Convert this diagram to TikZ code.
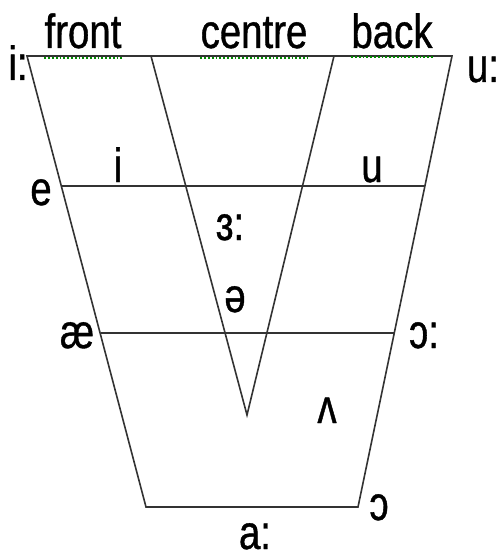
\documentclass[tikz,border=0pt]{standalone}
\usepackage{fontspec}
\setmainfont{Liberation Sans}[FakeStretch=0.8, FakeBold=0.8]
\usetikzlibrary{calc}

\begin{document}
\begin{tikzpicture}[x=1pt, y=-1pt,
  vowel/.style={anchor=base, inner sep=0pt, font=\fontsize{48}{50}\selectfont},
  edge/.style={line width=1.6pt, draw=black!80},
  squig/.style={green!55!black, line width=1.8pt, dotted}
]
\useasboundingbox (0,0) rectangle (501,559);
% chart corners
\coordinate (tl) at (27,56);
\coordinate (tr) at (452,56);
\coordinate (bl) at (146,507);
\coordinate (br) at (358,507);
\coordinate (vl) at (151,56);
\coordinate (vr) at (334,56);
\coordinate (vb) at (247,415);
\coordinate (el) at (62,186);
\coordinate (er) at (425,186);
\coordinate (al) at (101,333);
\coordinate (ar) at (394,333);
% labels
\node[vowel] (front) at (83,48) {front};
\node[vowel] (centre) at (254,48) {centre};
\node[vowel] (back) at (392,48) {back};
\node[vowel] (iy) at (18,80) {i:};
\node[vowel] (uw) at (483,82) {u:};
\node[vowel] (ih) at (118,182) {i};
\node[vowel] (uh) at (372,182) {u};
\node[vowel] (eh) at (41,205) {e};
\node[vowel] (er3) at (230,240) {ɜ:};
\node[vowel] (schwa) at (235,312) {ə};
\node[vowel] (ae) at (77,348) {æ};
\node[vowel] (ao) at (424,348) {ɔ:};
\node[vowel] (uhv) at (327,423) {ʌ};
\node[vowel] (oh) at (379,520) {ɔ};
\node[vowel] (aa) at (255,549) {a:};
% chart
\draw[edge, line join=miter] (tr) -- (tl) -- (bl) -- (br) -- cycle;
\draw[edge] (vl) -- (vb) -- (vr);
\draw[edge] (el) -- (er);
\draw[edge] (al) -- (ar);
% spell-check marks
\draw[squig] ([yshift=-10pt]front.base west) -- ([yshift=-10pt]front.base east);
\draw[squig] ([yshift=-10pt]centre.base west) -- ([yshift=-10pt]centre.base east);
\draw[squig] ([yshift=-9pt]back.base west) -- ([yshift=-9pt]back.base east);
\end{tikzpicture}
\end{document}
